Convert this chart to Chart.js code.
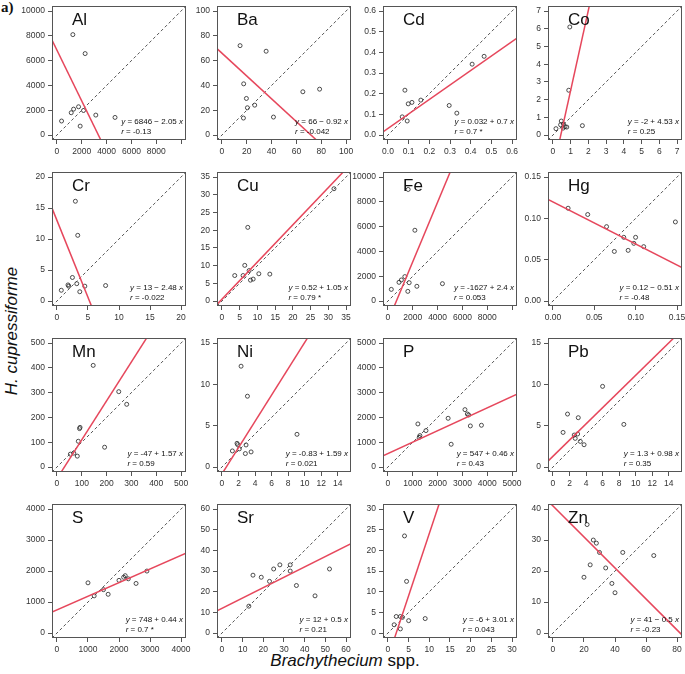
<!DOCTYPE html>
<html lang="en">
<head>
<meta charset="UTF-8">
<title>Brachythecium vs H. cupressiforme</title>
<script src="https://cdn.jsdelivr.net/npm/chart.js@4.4.0/dist/chart.umd.min.js"></script>
<style>
  body { margin: 0; background: #fff; }
  #fig { position: relative; width: 685px; height: 674px; overflow: hidden; font-family: "Liberation Sans", Arial, sans-serif; }
  #fig canvas { position: absolute; }
  .lab { position: absolute; white-space: nowrap; color: #111; }
  #tag { left: 1px; top: -1px; font: bold 15px "Liberation Serif", serif; }
  #ytitle { left: 12px; top: 331px; font-size: 17px; transform: translate(-50%, -50%) rotate(-90deg); }
  #xtitle { left: 345px; top: 661px; font-size: 17px; transform: translate(-50%, -50%); }
</style>
</head>
<body>
<div id="fig">
  <div class="lab" id="tag">a)</div>
  <div class="lab" id="ytitle"><i>H. cupressiforme</i></div>
  <div class="lab" id="xtitle"><i>Brachythecium</i> spp.</div>
</div>
<script>
// element names, one panel each
const names = ['Al', 'Ba', 'Cd', 'Co', 'Cr', 'Cu', 'Fe', 'Hg', 'Mn', 'Ni', 'P', 'Pb', 'S', 'Sr', 'V', 'Zn'];

// Brachythecium (x) and H. cupressiforme (y) concentrations
const alX = [1280, 2270, 370, 1150, 1340, 1740, 2140, 1870, 3130, 4680];
const alY = [8100, 6570, 1130, 1800, 2090, 2280, 1980, 720, 1610, 1420];
const baX = [14.6, 35.6, 17.5, 19.7, 20.5, 26.4, 17.3, 41.5, 65.2, 78.7];
const baY = [72.1, 67.6, 41.3, 29.5, 22, 24.1, 13.7, 14.5, 34.9, 37];
const cdX = [0.082, 0.098, 0.116, 0.159, 0.069, 0.093, 0.296, 0.333, 0.407, 0.465];
const cdY = [0.217, 0.151, 0.158, 0.169, 0.088, 0.068, 0.143, 0.106, 0.343, 0.381];
const coX = [0.95, 0.89, 1.66, 0.17, 0.43, 0.47, 0.59, 0.68, 0.78, 0.57];
const coY = [6.1, 2.53, 0.53, 0.36, 0.58, 0.79, 0.62, 0.47, 0.45, 0.39];
const crX = [2.97, 3.35, 2.49, 0.7, 1.78, 1.9, 3.19, 4.49, 3.68, 7.84];
const crY = [16.1, 10.6, 3.8, 1.74, 2.6, 2.4, 2.8, 2.4, 1.5, 2.5];
const cuX = [7.28, 6.43, 3.6, 5.96, 7.66, 8.04, 8.8, 10.4, 13.5, 31.6];
const cuY = [20.8, 10.07, 7.2, 7.2, 8.6, 5.9, 6.2, 7.7, 7.6, 31.7];
const feX = [1630, 2170, 270, 890, 1080, 1360, 1710, 1600, 2330, 4390];
const feY = [9000, 5710, 940, 1510, 1700, 1970, 1480, 780, 1190, 1400];
const hgX = [0.0183, 0.042, 0.0648, 0.0856, 0.0999, 0.0978, 0.1097, 0.0742, 0.0909, 0.148];
const hgY = [0.1123, 0.1047, 0.090, 0.0771, 0.0771, 0.0698, 0.0658, 0.060, 0.0613, 0.0957];
const mnX = [146, 249, 281, 93, 91, 86, 192, 54, 68, 82];
const mnY = [410, 304, 253, 160, 155, 104, 80, 52, 56, 44];
const niX = [2.31, 3.08, 9.07, 1.82, 1.9, 2.91, 1.26, 2.1, 2.83, 3.52];
const niY = [12.2, 8.57, 3.96, 2.87, 2.71, 2.67, 1.95, 2.2, 1.63, 1.83];
const pX = [1206, 1287, 1260, 1531, 2425, 3103, 3198, 3252, 3320, 3767, 2547];
const pY = [1738, 1268, 1200, 1470, 1966, 2315, 2140, 2100, 1658, 1685, 919];
const pbX = [6.0, 1.76, 3.06, 8.57, 1.22, 2.57, 2.98, 2.69, 3.31, 3.76];
const pbY = [9.76, 6.41, 5.97, 5.16, 4.19, 3.87, 4.0, 3.47, 3.1, 2.7];
const sX = [1000, 1200, 1500, 1650, 2000, 2150, 2200, 2300, 2550, 2900];
const sY = [1620, 1200, 1400, 1250, 1700, 1800, 1850, 1750, 1600, 2000];
const srX = [13, 15, 19, 23, 25, 28, 33, 36, 45, 52, 33];
const srY = [13, 28, 27, 25, 31, 33, 30, 23, 18, 31, 33];
const vX = [1.5, 3, 3.5, 4, 4.5, 3, 5, 9, 2];
const vY = [2, 4, 3.8, 23.5, 12.5, 1, 3, 3.5, 4];
const znX = [20, 22, 24, 26, 28, 30, 34, 38, 40, 45, 65];
const znY = [18, 35, 22, 30, 29, 26, 21, 16, 13, 26, 25];

const xs = [alX, baX, cdX, coX, crX, cuX, feX, hgX, mnX, niX, pX, pbX, sX, srX, vX, znX];
const ys = [alY, baY, cdY, coY, crY, cuY, feY, hgY, mnY, niY, pY, pbY, sY, srY, vY, znY];

// axis limits (0..lim, R adds 4% on each side)
const xLim = [10000, 100, 0.6, 7, 20, 35, 10000, 0.15, 500, 15, 5000, 15, 4000, 60, 30, 80];
const yLim = [10000, 100, 0.6, 7, 20, 35, 10000, 0.15, 500, 15, 5000, 15, 4000, 60, 30, 40];

// tick values
const xTicks = [
  [0, 2000, 4000, 6000, 8000, 10000], [0, 20, 40, 60, 80, 100], [0, 0.1, 0.2, 0.3, 0.4, 0.5, 0.6], [0, 1, 2, 3, 4, 5, 6, 7],
  [0, 5, 10, 15, 20], [0, 5, 10, 15, 20, 25, 30, 35], [0, 2000, 4000, 6000, 8000, 10000], [0, 0.05, 0.1, 0.15],
  [0, 100, 200, 300, 400, 500], [0, 2, 4, 6, 8, 10, 12, 14], [0, 1000, 2000, 3000, 4000, 5000], [0, 2, 4, 6, 8, 10, 12, 14],
  [0, 1000, 2000, 3000, 4000], [0, 10, 20, 30, 40, 50, 60], [0, 5, 10, 15, 20, 25, 30], [0, 20, 40, 60, 80]
];
const yTicks = [
  [0, 2000, 4000, 6000, 8000, 10000], [0, 20, 40, 60, 80, 100], [0, 0.1, 0.2, 0.3, 0.4, 0.5, 0.6], [0, 1, 2, 3, 4, 5, 6, 7],
  [0, 5, 10, 15, 20], [0, 5, 10, 15, 20, 25, 30, 35], [0, 2000, 4000, 6000, 8000, 10000], [0, 0.05, 0.1, 0.15],
  [0, 100, 200, 300, 400, 500], [0, 5, 10, 15], [0, 1000, 2000, 3000, 4000, 5000], [0, 5, 10, 15],
  [0, 1000, 2000, 3000, 4000], [0, 10, 20, 30, 40, 50, 60], [0, 5, 10, 15, 20, 25, 30], [0, 10, 20, 30, 40]
];
const tickDigits = [0, 0, 1, 0, 0, 0, 0, 2, 0, 0, 0, 0, 0, 0, 0, 0];
const xUnlabeled = [10000, null, null, null, null, null, 10000, null, null, null, null, null, null, null, null, null];

// regression y = a + b x, and correlation
const intercepts = ['6846', '66', '0.032', '-2', '13', '0.52', '-1627', '0.12', '-47', '-0.83', '547', '1.3', '748', '12', '-6', '41'];
const slopes = [-2.05, -0.92, 0.7, 4.53, -2.48, 1.05, 2.4, -0.51, 1.57, 1.59, 0.46, 0.98, 0.44, 0.5, 3.01, -0.5];
const rLabels = ['-0.13', '-0.042', '0.7 *', '0.25', '-0.022', '0.79 *', '0.053', '-0.48', '0.59', '0.021', '0.43', '0.35', '0.7 *', '0.21', '0.043', '-0.23'];

const colLeft = [52, 217, 383, 548];
const rowTop = [6, 172, 338, 504];
const BOX = 134, YW = 44, XH = 24, PT = 8, PR = 14;
const FONT = '"Liberation Sans", Arial, sans-serif';
const RED = '#e6475c';

const panelText = {
  id: 'panelText',
  afterDraw(chart, args, o) {
    const { ctx, chartArea: a } = chart;
    ctx.save();
    ctx.strokeStyle = '#555';
    ctx.lineWidth = 1;
    ctx.strokeRect(Math.round(a.left) + 0.5, Math.round(a.top) + 0.5, Math.round(a.right - a.left) - 1, Math.round(a.bottom - a.top) - 1);

    ctx.fillStyle = '#111';
    ctx.textBaseline = 'alphabetic';
    ctx.font = '17px ' + FONT;
    ctx.fillText(o.name, a.left + 20, a.top + 18.5);

    const it = 'italic 8px ' + FONT, rm = '8px ' + FONT;
    const op = o.slope < 0 ? ' \u2212 ' : ' + ';
    const eq = [['y', it], [' = ' + o.a + op + Math.abs(o.slope) + ' ', rm], ['x', it]];
    const rr = [['r', it], [' = ' + o.r, rm]];
    let w = 0;
    eq.forEach(([t, f]) => { ctx.font = f; w += ctx.measureText(t).width; });
    const x0 = a.right - 3 - w;
    const write = (parts, y) => {
      let x = x0;
      parts.forEach(([t, f]) => { ctx.font = f; ctx.fillText(t, x, y); x += ctx.measureText(t).width; });
    };
    write(eq, a.bottom - 16);
    write(rr, a.bottom - 6.5);
    ctx.restore();
  }
};

const fig = document.getElementById('fig');

names.forEach((name, i) => {
  const cv = document.createElement('canvas');
  cv.width = YW + BOX + PR;
  cv.height = PT + BOX + XH;
  cv.style.width = cv.width + 'px';
  cv.style.height = cv.height + 'px';
  cv.style.left = (colLeft[i % 4] - YW) + 'px';
  cv.style.top = (rowTop[Math.floor(i / 4)] - PT) + 'px';
  fig.appendChild(cv);

  const xMin = -0.04 * xLim[i], xMax = 1.04 * xLim[i];
  const yMin = -0.04 * yLim[i], yMax = 1.04 * yLim[i];
  const a = parseFloat(intercepts[i]), b = slopes[i];
  const pts = xs[i].map((x, k) => ({ x: x, y: ys[i][k] }));
  const fmt = v => v.toFixed(tickDigits[i]);

  const axisCommon = {
    type: 'linear',
    grid: { drawOnChartArea: false, drawTicks: true, tickLength: 4, color: '#555', lineWidth: 1 },
    border: { display: false }
  };

  new Chart(cv, {
    type: 'scatter',
    data: {
      datasets: [
        { type: 'line', data: [{ x: xMin, y: a + b * xMin }, { x: xMax, y: a + b * xMax }],
          borderColor: RED, borderWidth: 1.5, pointRadius: 0, fill: false },
        { type: 'line', data: [{ x: xMin, y: yMin }, { x: xMax, y: yMax }],
          borderColor: '#444', borderWidth: 0.9, borderDash: [3, 2.5], pointRadius: 0, fill: false },
        { data: pts, pointStyle: 'circle', pointRadius: 2, borderWidth: 0.8,
          borderColor: '#222', backgroundColor: 'rgba(0,0,0,0)' }
      ]
    },
    options: {
      responsive: false,
      animation: false,
      events: [],
      layout: { padding: { top: PT, right: PR, left: 0, bottom: 0 } },
      plugins: {
        legend: { display: false },
        tooltip: { enabled: false },
        panelText: { name: name, a: intercepts[i], slope: b, r: rLabels[i] }
      },
      scales: {
        x: Object.assign({}, axisCommon, {
          min: xMin, max: xMax,
          afterBuildTicks: ax => { ax.ticks = xTicks[i].map(v => ({ value: v })); },
          afterFit: ax => { ax.height = XH; },
          ticks: {
            autoSkip: false, maxRotation: 0, minRotation: 0, padding: 3,
            color: '#333', font: { family: FONT, size: 8.5 },
            callback: v => (v === xUnlabeled[i] ? '' : fmt(v))
          }
        }),
        y: Object.assign({}, axisCommon, {
          min: yMin, max: yMax,
          afterBuildTicks: ax => { ax.ticks = yTicks[i].map(v => ({ value: v })); },
          afterFit: ax => { ax.width = YW; },
          ticks: {
            autoSkip: false, padding: 3,
            color: '#333', font: { family: FONT, size: 8.5 },
            callback: v => fmt(v)
          }
        })
      }
    },
    plugins: [panelText]
  });
});
</script>
</body>
</html>
